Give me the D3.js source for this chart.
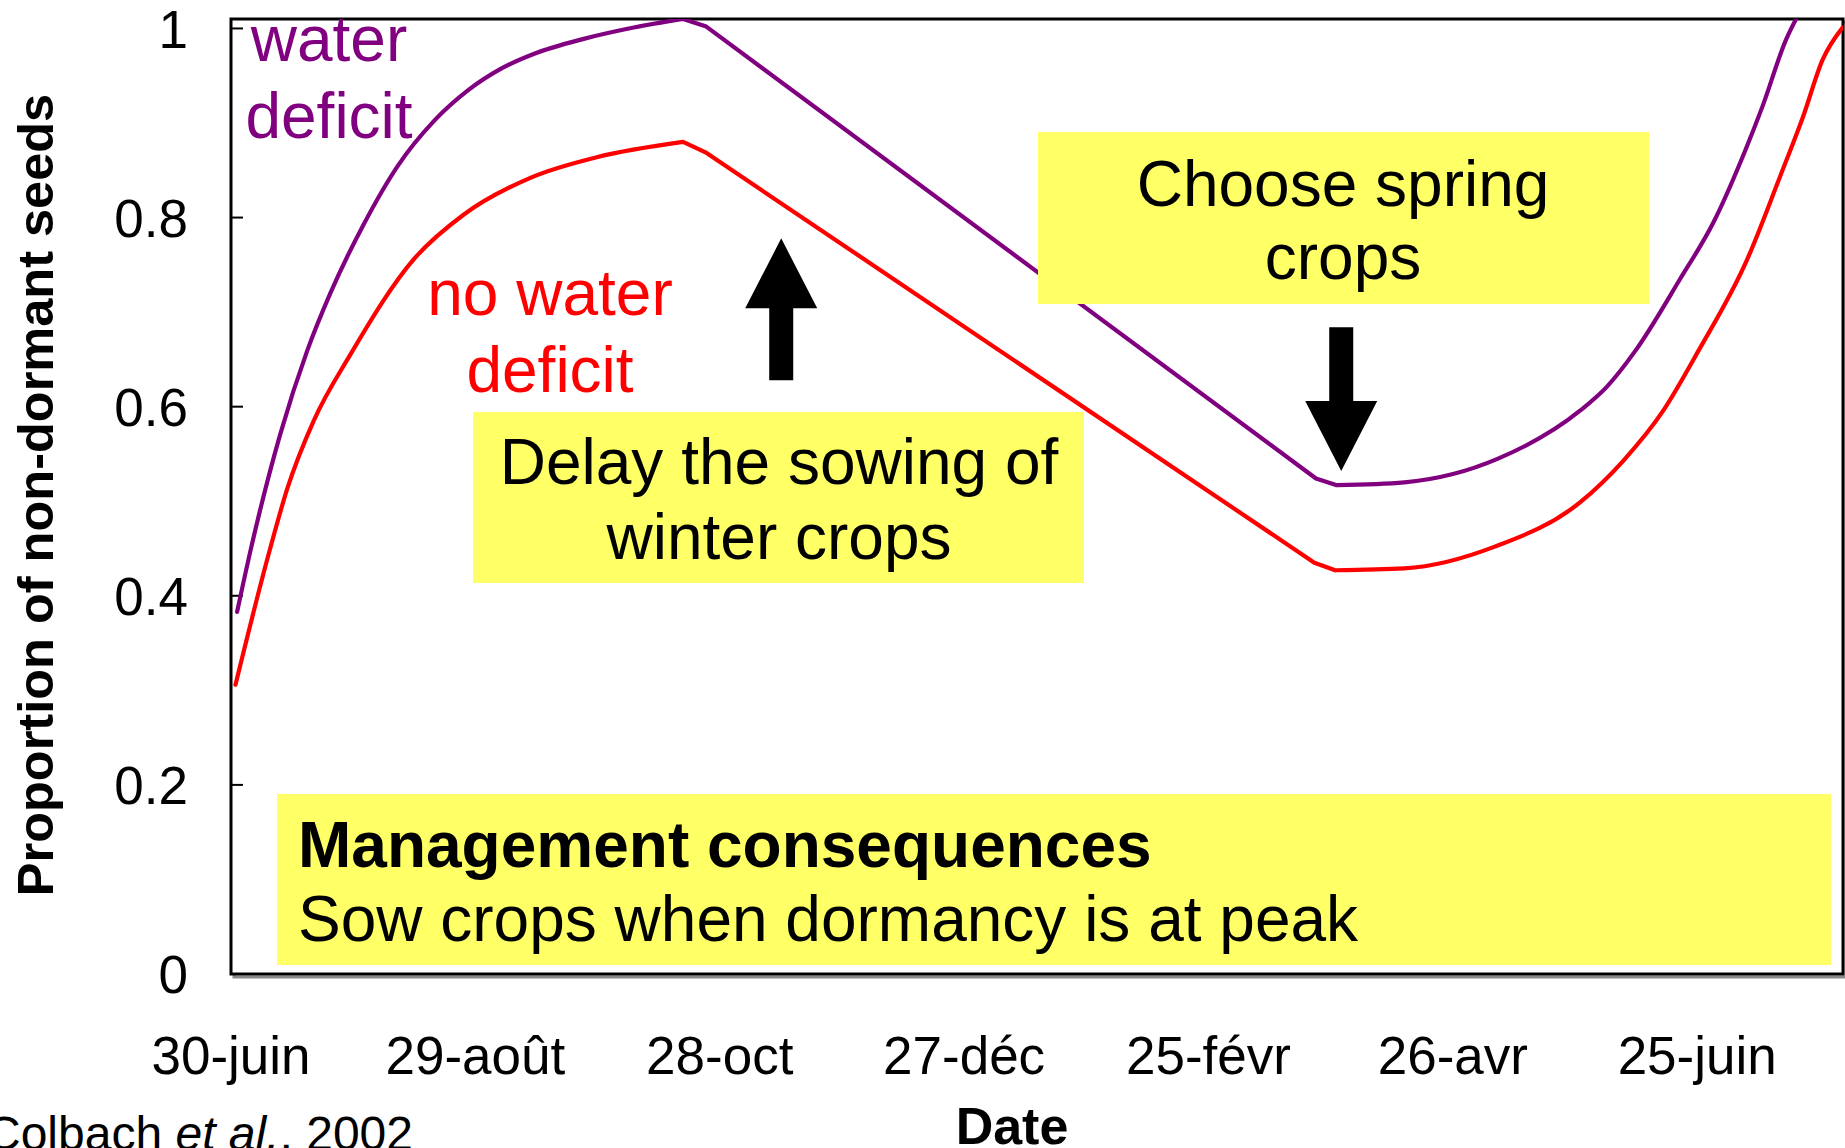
<!DOCTYPE html>
<html lang="en">
<head>
    <meta charset="UTF-8">
    <title>Proportion of non-dormant seeds</title>
    <script src="https://d3js.org/d3.v7.min.js"></script>
    <style>
        body { margin: 0; background: #fff; }
        svg { display: block; font-family: "Liberation Sans", Arial, sans-serif; }
        .tick-label { font-size: 53px; fill: #000; }
        .note { font-size: 64px; fill: #000; }
    </style>
</head>
<body>
    <svg id="chart" width="1845" height="1148"></svg>

    <script>
        // x = days since 30 June, y = proportion of non-dormant seeds
        const xTickDays = [0, 60, 120, 180, 240, 300, 360];
        const xTickLabels = ["30-juin", "29-août", "28-oct", "27-déc", "25-févr", "26-avr", "25-juin"];
        const yTickValues = [0, 0.2, 0.4, 0.6, 0.8, 1];
        const yTickLabels = ["0", "0.2", "0.4", "0.6", "0.8", "1"];

        const waterDeficitDays = [1.5, 4.8, 12.1, 18.7, 24.4, 32.6, 41, 49.8, 58, 66.1, 74.3, 86.6, 98.9, 111, 116.7,
            266.4, 271.5, 288.1, 311.1, 331.3, 337.8, 344.8, 355.8, 364, 371.8, 375.9, 381.9, 384.4];
        const waterDeficitValues = [0.383, 0.448, 0.571, 0.659, 0.720, 0.793, 0.855, 0.902, 0.934, 0.957, 0.973, 0.989, 1.001, 1.010, 1.002,
            0.524, 0.517, 0.520, 0.545, 0.596, 0.621, 0.659, 0.735, 0.795, 0.871, 0.916, 0.989, 1.011];

        const noDeficitDays = [1.1, 9.3, 13.8, 20.3, 29.3, 44.9, 57.1, 73.5, 90, 111, 116.5,
            266, 271.1, 288.1, 310.3, 331.3, 341.9, 351.7, 360.3, 372.2, 380.4, 386.1, 390.8, 395.7];
        const noDeficitValues = [0.306, 0.445, 0.513, 0.585, 0.655, 0.756, 0.803, 0.842, 0.864, 0.880, 0.869,
            0.435, 0.427, 0.429, 0.452, 0.499, 0.543, 0.596, 0.659, 0.755, 0.844, 0.908, 0.967, 1.001];

        // the curves are straight between these two days (autumn/winter decline)
        const straightFrom = 110, straightTo = 272;

        const plotLeft = 231, plotRight = 1843, plotTop = 19, plotBottom = 974;
        const svg = d3.select("#chart");

        const xScale = d3.scaleLinear().domain([0, 395.8]).range([plotLeft, plotRight]);
        const yScale = d3.scaleLinear().domain([0, 1.01]).range([plotBottom, plotTop]);

        // frame with a faint shadow
        svg.append("rect")
            .attr("x", plotLeft + 3).attr("y", plotTop + 3)
            .attr("width", plotRight - plotLeft).attr("height", plotBottom - plotTop)
            .attr("fill", "none").attr("stroke", "#888").attr("stroke-width", 3);
        svg.append("rect")
            .attr("x", plotLeft).attr("y", plotTop)
            .attr("width", plotRight - plotLeft).attr("height", plotBottom - plotTop)
            .attr("fill", "#fff").attr("stroke", "#000").attr("stroke-width", 3);

        // y ticks (inside) and labels
        svg.append("g").selectAll("line")
            .data(yTickValues)
            .enter().append("line")
            .attr("x1", plotLeft).attr("x2", plotLeft + 12)
            .attr("y1", d => yScale(d)).attr("y2", d => yScale(d))
            .attr("stroke", "#000").attr("stroke-width", 2);

        svg.append("g").selectAll("text")
            .data(yTickValues)
            .enter().append("text")
            .attr("class", "tick-label")
            .attr("x", 188)
            .attr("y", d => yScale(d))
            .attr("dy", "0.36em")
            .attr("text-anchor", "end")
            .text((d, i) => yTickLabels[i]);

        svg.append("g").selectAll("text")
            .data(xTickDays)
            .enter().append("text")
            .attr("class", "tick-label")
            .attr("x", d => xScale(d))
            .attr("y", 1074)
            .attr("text-anchor", "middle")
            .text((d, i) => xTickLabels[i]);

        // axis titles
        svg.append("text")
            .attr("transform", "translate(53,495) rotate(-90)")
            .attr("text-anchor", "middle")
            .style("font-size", "50.5px")
            .style("font-weight", "bold")
            .text("Proportion of non-dormant seeds");

        svg.append("text")
            .attr("x", 1012).attr("y", 1144)
            .attr("text-anchor", "middle")
            .style("font-size", "52px")
            .style("font-weight", "bold")
            .text("Date");

        const cite = svg.append("text")
            .attr("x", -14).attr("y", 1150)
            .style("font-size", "48px");
        cite.append("tspan").text("Colbach ");
        cite.append("tspan").style("font-style", "italic").text("et al.");
        cite.append("tspan").text(", 2002");

        // curves
        svg.append("clipPath").attr("id", "plot-clip")
            .append("rect")
            .attr("x", plotLeft).attr("y", plotTop)
            .attr("width", plotRight - plotLeft).attr("height", plotBottom - plotTop);

        const smooth = d3.line()
            .x(d => xScale(d[0]))
            .y(d => yScale(d[1]))
            .curve(d3.curveMonotoneX);
        const straight = d3.line()
            .x(d => xScale(d[0]))
            .y(d => yScale(d[1]));

        function seriesPath(days, values) {
            const pts = days.map((d, i) => [d, values[i]]);
            const mid = pts.filter(p => p[0] >= straightFrom && p[0] <= straightTo);
            const first = mid[0][0], last = mid[mid.length - 1][0];
            return smooth(pts.filter(p => p[0] <= first)) +
                straight(mid) +
                smooth(pts.filter(p => p[0] >= last));
        }

        const series = [
            { days: waterDeficitDays, values: waterDeficitValues, color: "#800080" },
            { days: noDeficitDays, values: noDeficitValues, color: "#ff0000" }
        ];

        svg.append("g").attr("clip-path", "url(#plot-clip)")
            .selectAll("path")
            .data(series)
            .enter().append("path")
            .attr("d", s => seriesPath(s.days, s.values))
            .attr("fill", "none")
            .attr("stroke", s => s.color)
            .attr("stroke-width", 4.2)
            .attr("stroke-linejoin", "round")
            .attr("stroke-linecap", "round");

        // series labels
        function multiline(x, ys, lines, color, anchor) {
            const t = svg.append("text")
                .attr("class", "note")
                .attr("text-anchor", anchor)
                .style("fill", color);
            lines.forEach((l, i) => t.append("tspan").attr("x", x).attr("y", ys[i]).text(l));
        }
        multiline(329, [61, 138], ["water", "deficit"], "#800080", "middle");
        multiline(550, [315, 392], ["no water", "deficit"], "#ff0000", "middle");

        // yellow notes
        const yellow = "#ffff66";
        svg.append("rect").attr("x", 1038).attr("y", 132).attr("width", 611).attr("height", 172).attr("fill", yellow);
        multiline(1343, [206, 279], ["Choose spring", "crops"], "#000", "middle");

        svg.append("rect").attr("x", 473).attr("y", 412).attr("width", 611).attr("height", 171).attr("fill", yellow);
        multiline(779, [484, 559], ["Delay the sowing of", "winter crops"], "#000", "middle");

        svg.append("rect").attr("x", 277).attr("y", 794).attr("width", 1554).attr("height", 171).attr("fill", yellow);
        svg.append("text").attr("class", "note").attr("x", 298).attr("y", 867)
            .style("font-weight", "bold").text("Management consequences");
        svg.append("text").attr("class", "note").attr("x", 298).attr("y", 941)
            .text("Sow crops when dormancy is at peak");

        // arrows: tip at (day, value), tail at value
        function arrow(day, tipVal, tailVal) {
            const cx = xScale(day), tip = yScale(tipVal), tail = yScale(tailVal);
            const dir = tail > tip ? 1 : -1;
            const head = 70 * dir, hw = 36, sw = 12;
            const pts = [
                [cx, tip], [cx + hw, tip + head], [cx + sw, tip + head], [cx + sw, tail],
                [cx - sw, tail], [cx - sw, tip + head], [cx - hw, tip + head]
            ];
            svg.append("polygon").attr("points", pts.map(p => p.join(",")).join(" ")).attr("fill", "#000");
        }
        arrow(135.1, 0.778, 0.628);
        arrow(272.6, 0.532, 0.684);
    </script>
</body>
</html>
